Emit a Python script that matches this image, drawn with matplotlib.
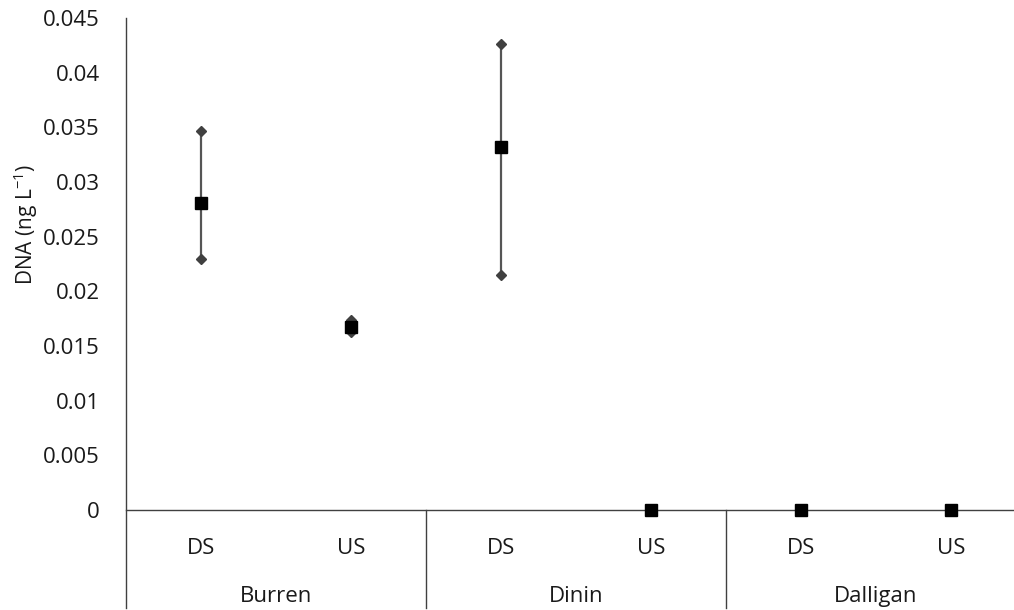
import matplotlib.pyplot as plt
from matplotlib.transforms import blended_transform_factory

sites = ["Burren", "Dinin", "Dalligan"]
positions = ["DS", "US"]
mean = [0.0281, 0.0167, 0.0332, 0.0, 0.0, 0.0]
high = [0.0347, 0.0174, 0.0426, None, None, None]
low = [0.0230, 0.0163, 0.0215, None, None, None]
yticks = [0, 0.005, 0.01, 0.015, 0.02, 0.025, 0.03, 0.035, 0.04, 0.045]

plt.rcParams["font.family"] = ["Open Sans", "DejaVu Sans"]
plt.rcParams["mathtext.fontset"] = "custom"
plt.rcParams["mathtext.rm"] = "Open Sans"
txt = "#1a1a1a"
grey = "#404040"

fig = plt.figure(figsize=(10.14, 6.10), dpi=100)
W, H = 1014, 610
ax = fig.add_axes([126 / W, (H - 510) / H, 900 / W, 492 / H])

x = list(range(len(mean)))
for i in x:
    if high[i] is not None:
        ax.plot([i, i], [low[i], high[i]], color="#555555", lw=1.6, zorder=2)
        ax.plot([i, i], [low[i], high[i]], ls="none", marker="D", ms=5.5,
                color=grey, zorder=3)
ax.plot(x, mean, ls="none", marker="s", ms=8, color="black", zorder=4, clip_on=False)

ax.set_xlim(-0.5, 5.5)
ax.set_ylim(0, 0.045)
ax.set_yticks(yticks)
ax.set_yticklabels([f"{t:g}" for t in yticks])
ax.tick_params(axis="y", length=0, pad=19, labelsize=16, labelcolor=txt)
ax.set_xticks([])

for s in ["top", "right", "left"]:
    ax.spines[s].set_visible(False)
ax.spines["bottom"].set_color(grey)
ax.spines["bottom"].set_linewidth(1.0)

ylow = -98 / 492
ax.plot([0, 0], [ylow, 1], transform=ax.transAxes, color=grey, lw=1.0, clip_on=False)
tr = blended_transform_factory(ax.transData, ax.transAxes)
for sep in [1.5, 3.5]:
    ax.plot([sep, sep], [ylow, 0], transform=tr, color=grey, lw=1.0, clip_on=False)

for i in x:
    ax.text(i, -44 / 492, positions[i % 2], transform=tr, ha="center", va="baseline",
            fontsize=16, color=txt)
for g, name in enumerate(sites):
    ax.text(2 * g + 0.5, -92 / 492, name, transform=tr, ha="center", va="baseline",
            fontsize=16, color=txt)

ax.set_ylabel("DNA (ng L$^{-1}$)", fontsize=15, color=txt, va="center")
ax.yaxis.set_label_coords(-100 / 900, (510 - 225) / 492)

fig.savefig("out.png", dpi=100)
